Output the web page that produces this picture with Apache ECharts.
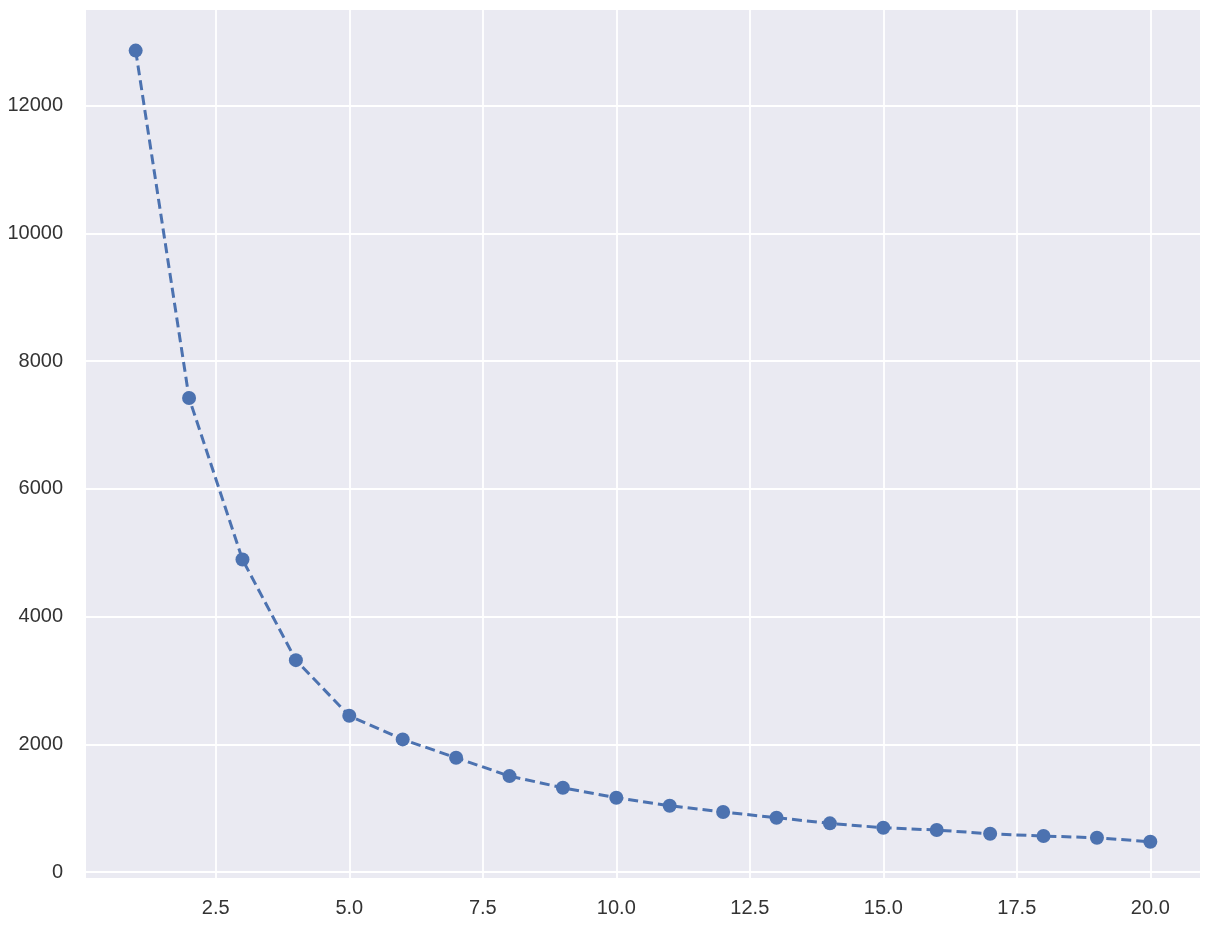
<!DOCTYPE html>
<html>
<head>
<meta charset="utf-8">
<script src="https://cdn.jsdelivr.net/npm/echarts@6/dist/echarts.min.js"></script>
<style>html,body{margin:0;padding:0;background:#fff}#c{width:1208px;height:928px}</style>
</head>
<body>
<div id="c"></div>
<script>
const xValues = [1,2,3,4,5,6,7,8,9,10,11,12,13,14,15,16,17,18,19,20];
const yValues = [12864,7423,4893,3318,2446,2077,1789,1502,1319,1163,1038,939,850,762,693,657,599,563,537,474];
const xTicks = [2.5,5.0,7.5,10.0,12.5,15.0,17.5,20.0];
const yTicks = [0,2000,4000,6000,8000,10000,12000];

const data = xValues.map((x,i)=>[x,yValues[i]]);
const chart = echarts.init(document.getElementById('c'), null, {renderer:'canvas'});
const font = {fontFamily:'"Liberation Sans", Arial, sans-serif', fontSize:20, color:'#333333'};
chart.setOption({
  animation:false,
  backgroundColor:'#ffffff',
  grid:{left:86, right:8, top:10, bottom:50, show:true, backgroundColor:'#EAEAF2', borderWidth:0},
  xAxis:{
    type:'value', min:0.07, max:20.93,
    axisLine:{show:false},
    axisTick:{show:false, customValues:xTicks},
    axisLabel:Object.assign({customValues:xTicks, margin:20, formatter:v=>v.toFixed(1)}, font),
    splitLine:{show:true, lineStyle:{color:'#ffffff', width:1.8}}
  },
  yAxis:{
    type:'value', min:-94, max:13500,
    axisLine:{show:false},
    axisTick:{show:false, customValues:yTicks},
    axisLabel:Object.assign({customValues:yTicks, margin:23, formatter:v=>String(v)}, font),
    splitLine:{show:true, lineStyle:{color:'#ffffff', width:1.8}}
  },
  series:[{
    type:'line', data:data,
    symbol:'circle', symbolSize:14,
    itemStyle:{color:'#4C72B0'},
    lineStyle:{color:'#4C72B0', width:3, type:[10,5]}
  }]
});
</script>
</body>
</html>
